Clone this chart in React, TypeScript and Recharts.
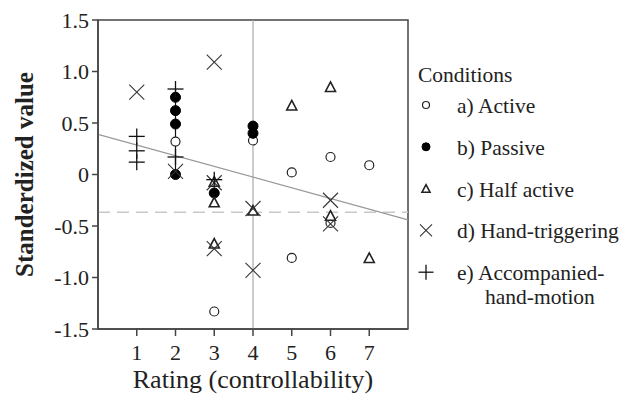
import React from 'react'
import {
  ScatterChart,
  Scatter,
  XAxis,
  YAxis,
  ReferenceLine,
  ReferenceArea,
} from 'recharts'

// rating (x), standardized value (y)
const activePts = [[2, 0.32], [3, -1.33], [4, 0.33], [5, 0.02], [5, -0.81], [6, 0.17], [6, -0.47], [7, 0.09]]
const passivePts = [[2, 0.75], [2, 0.62], [2, 0.49], [2, 0.0], [3, -0.18], [4, 0.47], [4, 0.4]]
const halfActivePts = [[3, -0.07], [3, -0.27], [3, -0.67], [4, -0.35], [5, 0.67], [6, 0.85], [6, -0.4], [7, -0.81]]
const handTrigPts = [[1, 0.8], [2, 0.03], [3, 1.09], [3, -0.08], [3, -0.72], [4, -0.33], [4, -0.93], [6, -0.25], [6, -0.48]]
const accompPts = [[1, 0.37], [1, 0.23], [1, 0.12], [2, 0.83], [2, 0.17], [3, -0.05]]

const xTicks = [1, 2, 3, 4, 5, 6, 7]
const yTicks = [-1.5, -1.0, -0.5, 0, 0.5, 1.0, 1.5]
const regression = [{ x: 0, y: 0.39 }, { x: 8, y: -0.44 }]
const meanLine = -0.366
const stem = [{ x: 2, y: 0 }, { x: 2, y: 0.83 }]

const toPts = (arr: number[][]) => arr.map(([x, y]) => ({ x, y }))

const INK = '#222'
const FONT = '"Liberation Serif", "Times New Roman", serif'

const OpenCircle = ({ cx, cy, r = 4.5 }: any) => (
  <circle cx={cx} cy={cy} r={r} fill="#fff" stroke={INK} strokeWidth={1.2} />
)
const FilledCircle = ({ cx, cy, r = 5 }: any) => (
  <circle cx={cx} cy={cy} r={r} fill="#000" stroke="#000" />
)
const Triangle = ({ cx, cy, s = 5 }: any) => (
  <polygon
    points={`${cx},${cy - s} ${cx + s},${cy + s * 0.9} ${cx - s},${cy + s * 0.9}`}
    fill="#fff"
    stroke={INK}
    strokeWidth={1.6}
  />
)
const Cross = ({ cx, cy, s = 7.5 }: any) => (
  <g stroke="#333" strokeWidth={1.1}>
    <line x1={cx - s} y1={cy - s} x2={cx + s} y2={cy + s} />
    <line x1={cx - s} y1={cy + s} x2={cx + s} y2={cy - s} />
  </g>
)
const Plus = ({ cx, cy, s = 8 }: any) => (
  <g stroke="#111" strokeWidth={1.3}>
    <line x1={cx - s} y1={cy} x2={cx + s} y2={cy} />
    <line x1={cx} y1={cy - s} x2={cx} y2={cy + s} />
  </g>
)

const legendRows = [
  { label: 'a) Active', Icon: OpenCircle, props: { r: 3.5 } },
  { label: 'b) Passive', Icon: FilledCircle, props: { r: 4 } },
  { label: 'c) Half active', Icon: Triangle, props: { s: 4 } },
  { label: 'd) Hand-triggering', Icon: Cross, props: { s: 6 } },
  { label: 'e) Accompanied-', Icon: Plus, props: { s: 7.5 } },
]

const LegendBox = () => (
  <svg width={228} height={270} style={{ display: 'block' }}>
    <text x={13} y={32} fontFamily={FONT} fontSize={21.5} fill={INK}>Conditions</text>
    {legendRows.map((row, i) => {
      const base = 63 + i * 41.8
      const Icon = row.Icon
      return (
        <g key={row.label}>
          <Icon cx={21} cy={base - 8} {...row.props} />
          <text x={52} y={base} fontFamily={FONT} fontSize={21.5} fill={INK}>{row.label}</text>
        </g>
      )
    })}
    <text x={80} y={254} fontFamily={FONT} fontSize={21.5} fill={INK}>hand-motion</text>
  </svg>
)

export default function App() {
  return (
    <div style={{ position: 'absolute', left: 0, top: 0, width: 633, height: 400, background: '#fff' }}>
      <ScatterChart width={633} height={400} margin={{ top: 20, right: 225, bottom: 9, left: 8 }}>
        <XAxis
          type="number"
          dataKey="x"
          domain={[0, 8]}
          ticks={xTicks}
          allowDataOverflow
          height={62}
          tickSize={7}
          tickMargin={8}
          stroke="#444"
          strokeWidth={1.5}
          tick={{ fill: INK, fontSize: 22, fontFamily: FONT }}
          label={{ value: 'Rating (controllability)', position: 'insideBottom', offset: 3, fill: INK, fontSize: 26, fontFamily: FONT }}
        />
        <YAxis
          type="number"
          dataKey="y"
          domain={[-1.5, 1.5]}
          ticks={yTicks}
          allowDataOverflow
          width={90}
          tickSize={6}
          tickMargin={3}
          stroke="#444"
          strokeWidth={1.5}
          tickFormatter={(v: number) => (v === 0 ? '0' : v.toFixed(1))}
          tick={{ fill: INK, fontSize: 22, fontFamily: FONT }}
          label={{
            value: 'Standerdized value',
            angle: -90,
            position: 'insideLeft',
            offset: 16,
            fill: INK,
            fontSize: 25,
            fontWeight: 'bold',
            fontFamily: FONT,
            style: { textAnchor: 'middle' },
          }}
        />
        <ReferenceArea x1={0} x2={8} y1={-1.5} y2={1.5} fill="none" stroke="#444" strokeWidth={1.5} />
        <ReferenceLine x={4} stroke="#aaa" strokeWidth={1.2} />
        <ReferenceLine y={meanLine} stroke="#c8c8c8" strokeWidth={1.5} strokeDasharray="12 7" />
        <ReferenceLine segment={regression} stroke="#999" strokeWidth={1.2} />
        <ReferenceLine segment={stem} stroke="#111" strokeWidth={1.2} />
        <Scatter name="a) Active" data={toPts(activePts)} shape={(p: any) => <OpenCircle cx={p.cx} cy={p.cy} />} isAnimationActive={false} />
        <Scatter name="b) Passive" data={toPts(passivePts)} shape={(p: any) => <FilledCircle cx={p.cx} cy={p.cy} />} isAnimationActive={false} />
        <Scatter name="c) Half active" data={toPts(halfActivePts)} shape={(p: any) => <Triangle cx={p.cx} cy={p.cy} />} isAnimationActive={false} />
        <Scatter name="d) Hand-triggering" data={toPts(handTrigPts)} shape={(p: any) => <Cross cx={p.cx} cy={p.cy} />} isAnimationActive={false} />
        <Scatter name="e) Accompanied-hand-motion" data={toPts(accompPts)} shape={(p: any) => <Plus cx={p.cx} cy={p.cy} />} isAnimationActive={false} />
      </ScatterChart>
      <div style={{ position: 'absolute', left: 405, top: 50 }}>
        <LegendBox />
      </div>
    </div>
  )
}
